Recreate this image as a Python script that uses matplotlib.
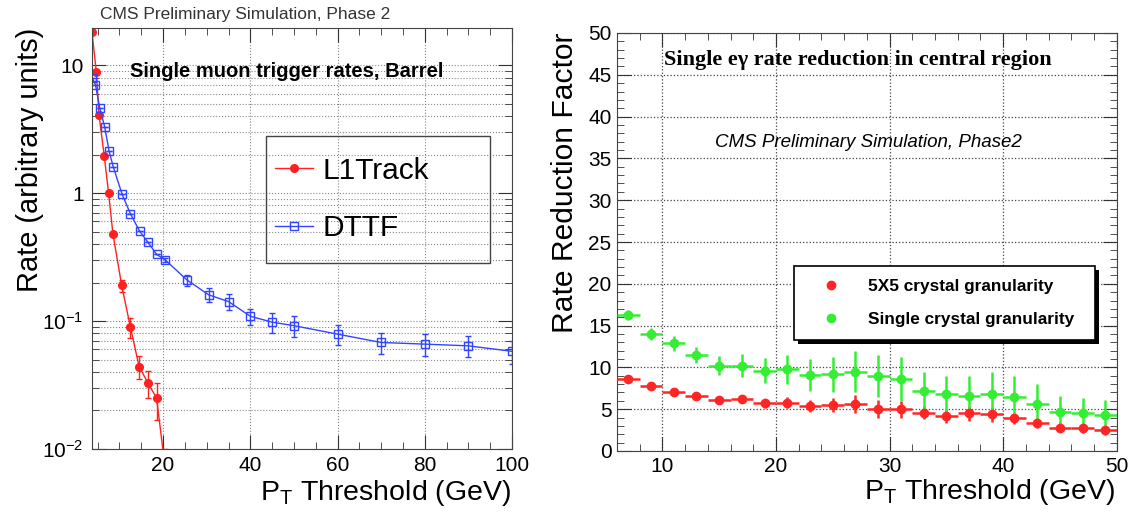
import matplotlib
matplotlib.use("Agg")
import matplotlib.pyplot as plt
from matplotlib.ticker import MultipleLocator, FixedLocator, FixedFormatter, NullFormatter, LogLocator
from matplotlib.patches import Rectangle
from matplotlib.lines import Line2D

plt.rcParams['font.family'] = ['Liberation Sans', 'DejaVu Sans']
plt.rcParams['mathtext.fontset'] = 'custom'
plt.rcParams['mathtext.rm'] = 'Liberation Sans'
plt.rcParams['mathtext.it'] = 'Liberation Sans:italic'
plt.rcParams['mathtext.bf'] = 'Liberation Sans:bold'

# --- left panel: single muon trigger rates (barrel)
l1_pt = [3.7, 4.7, 5.3, 6.5, 7.5, 8.5, 10.5, 12.5, 14.5, 16.5, 18.5, 20.5]
l1_rate = [18.0, 8.8, 4.1, 1.96, 1.0, 0.48, 0.19, 0.09, 0.044, 0.033, 0.025, 0.007]
l1_err = [0, 0, 0, 0, 0, 0.01, 0.02, 0.016, 0.009, 0.008, 0.008, 0.003]

dttf_pt = [3.7, 4.5, 5.5, 6.6, 7.6, 8.6, 10.6, 12.5, 14.6, 16.5, 18.5, 20.5,
           25.5, 30.5, 35, 40, 45, 50, 60, 70, 80, 90, 100]
dttf_rate = [8.0, 7.0, 4.6, 3.3, 2.14, 1.59, 0.98, 0.69, 0.505, 0.414, 0.332, 0.30,
             0.209, 0.16, 0.142, 0.109, 0.098, 0.092, 0.079, 0.068, 0.066, 0.064, 0.058]
dttf_err = [0, 0, 0, 0, 0, 0, 0, 0, 0, 0, 0, 0.012,
            0.02, 0.02, 0.02, 0.016, 0.018, 0.017, 0.014, 0.013, 0.013, 0.012, 0.012]

# --- right panel: single e/gamma rate reduction
eg_pt = [7, 9, 11, 13, 15, 17, 19, 21, 23, 25, 27, 29, 31, 33, 35, 37, 39, 41, 43, 45, 47, 49]
red_5x5 = [8.6, 7.8, 7.0, 6.6, 6.1, 6.2, 5.7, 5.8, 5.4, 5.5, 5.6, 5.0,
           5.0, 4.6, 4.2, 4.5, 4.4, 3.9, 3.4, 2.8, 2.7, 2.5]
red_5x5_err = [0.3, 0.3, 0.35, 0.4, 0.45, 0.5, 0.55, 0.7, 0.75, 0.8, 1.1, 1.1,
               1.0, 0.75, 0.8, 0.9, 0.9, 0.65, 0.6, 0.55, 0.55, 0.55]
red_single = [16.3, 14.0, 12.9, 11.5, 10.2, 10.2, 9.6, 9.8, 9.1, 9.2, 9.5, 9.0,
              8.6, 7.2, 6.8, 6.6, 6.8, 6.4, 5.6, 4.7, 4.5, 4.3]
red_single_err = [0.6, 0.74, 0.88, 1.0, 1.14, 1.4, 1.5, 1.73, 1.9, 2.1, 2.45, 2.5,
                  2.65, 2.2, 2.23, 2.43, 2.7, 2.63, 2.43, 1.9, 1.8, 1.75]

W, H = 1135, 518
fig = plt.figure(figsize=(W / 100, H / 100), dpi=100)

RED = '#ff2020'
BLUE = '#3344ff'
GREEN = '#33ee33'
EG_RED = '#ff2525'

# ---------------- left
ax1 = fig.add_axes([92 / W, 1 - 449 / H, 420 / W, 421 / H])
ax1.set_yscale('log')
ax1.set_xlim(3.7, 100)
ax1.set_ylim(0.01, 19.5)

l1_line, = ax1.plot(l1_pt, l1_rate, color=RED, lw=1, marker='o', ms=5.5, label='L1Track')
ax1.errorbar(l1_pt, l1_rate, yerr=l1_err, fmt='none', ecolor=RED, elinewidth=1, capsize=2)
dt_line, = ax1.plot(dttf_pt, dttf_rate, color=BLUE, lw=1, marker='s', ms=5.5,
                    mfc='none', mec=BLUE, mew=1, label='DTTF')
ax1.errorbar(dttf_pt, dttf_rate, yerr=dttf_err, fmt='none', ecolor=BLUE, elinewidth=1, capsize=2)

ax1.xaxis.set_major_locator(MultipleLocator(20))
ax1.xaxis.set_minor_locator(MultipleLocator(5))
ax1.yaxis.set_major_locator(FixedLocator([0.01, 0.1, 1, 10]))
ax1.yaxis.set_major_formatter(FixedFormatter([r'$10^{-2}$', r'$10^{-1}$', '1', '10']))
ax1.yaxis.set_minor_locator(LogLocator(subs=[2, 3, 4, 5, 6, 7, 8, 9]))
ax1.yaxis.set_minor_formatter(NullFormatter())
ax1.grid(which='both', axis='y', ls=':', color='#888888', lw=0.8)
ax1.grid(which='major', axis='x', ls=':', color='#888888', lw=0.8)
ax1.tick_params(which='both', direction='in', top=True, right=True, labelsize=15, color='#333333')
ax1.tick_params(which='major', length=10)
ax1.tick_params(which='minor', length=5)
ax1.tick_params(axis='x', pad=5)
ax1.tick_params(axis='y', pad=6)
for s in ax1.spines.values():
    s.set_color('#444444')

ax1.text(0.0905, 0.8955, 'Single muon trigger rates, Barrel', transform=ax1.transAxes,
         fontsize=14.5, fontweight='bold', ha='left', va='center')
ax1.add_patch(Rectangle((0.414, 0.442), 0.534, 0.3015, transform=ax1.transAxes,
                        fill=False, edgecolor='#444444', lw=1, zorder=4))
ax1.legend(handles=[l1_line, dt_line], loc='center left',
           bbox_to_anchor=(0.414, 0.442, 0.534, 0.3015), mode='expand', borderaxespad=0,
           frameon=False, fontsize=21.5, borderpad=0.3, handlelength=1.27,
           handletextpad=0.34, labelspacing=1.0)

fig.text(100 / W, 1 - 15 / H, 'CMS Preliminary Simulation, Phase 2', fontsize=12.5,
         color='#333333', ha='left', va='center')
fig.text(30 / W, 1 - 28 / H, 'Rate (arbitrary units)', rotation=90, fontsize=20.9,
         ha='center', va='top')
fig.text(511 / W, 1 - 493 / H, r'P$_{\mathrm{T}}$ Threshold (GeV)', fontsize=20.5,
         ha='right', va='center')

# ---------------- right
ax2 = fig.add_axes([617 / W, 1 - 451 / H, 499.7 / W, 418 / H])
ax2.set_xlim(6, 50)
ax2.set_ylim(0, 50)

ax2.errorbar(eg_pt, red_5x5, yerr=red_5x5_err, xerr=1, fmt='o', color=EG_RED, ms=6,
             elinewidth=1.8, capsize=0, zorder=3)
ax2.errorbar(eg_pt, red_single, yerr=red_single_err, xerr=1, fmt='o', color=GREEN, ms=6,
             elinewidth=1.8, capsize=0, zorder=3)

ax2.xaxis.set_major_locator(MultipleLocator(10))
ax2.xaxis.set_minor_locator(MultipleLocator(2))
ax2.yaxis.set_major_locator(MultipleLocator(5))
ax2.yaxis.set_minor_locator(MultipleLocator(1))
ax2.grid(which='major', ls=':', color='#444444', lw=0.9)
ax2.tick_params(which='both', direction='in', top=True, right=True, labelsize=15, color='#333333')
ax2.tick_params(which='major', length=10)
ax2.tick_params(which='minor', length=5)
ax2.tick_params(axis='x', pad=4)
ax2.tick_params(axis='y', pad=4)
for s in ax2.spines.values():
    s.set_color('#444444')

ax2.text(0.482, 0.935, u'Single e\u03b3 rate reduction in central region', transform=ax2.transAxes,
         family=['Liberation Serif', 'DejaVu Serif'], fontsize=16, fontweight='bold',
         ha='center', va='center')
ax2.text(0.503, 0.739, 'CMS Preliminary Simulation, Phase2', transform=ax2.transAxes,
         fontsize=13.5, style='italic', ha='center', va='center')

dx, dy = 4 / 499.7, 4 / 418
ax2.add_patch(Rectangle((0.354 + dx, 0.2656 - dy), 0.6026, 0.1777, transform=ax2.transAxes,
                        facecolor='black', edgecolor='none', zorder=4))
ax2.add_patch(Rectangle((0.354, 0.2656), 0.6026, 0.1777, transform=ax2.transAxes,
                        facecolor='white', edgecolor='black', lw=1.2, zorder=4.5))
h_5x5 = Line2D([], [], ls='none', marker='o', ms=6, color=EG_RED)
h_single = Line2D([], [], ls='none', marker='o', ms=6, color=GREEN)
ax2.legend(handles=[h_5x5, h_single],
           labels=['5X5 crystal granularity', 'Single crystal granularity'],
           loc='center left', bbox_to_anchor=(0.354, 0.2656, 0.6026, 0.1777), mode='expand',
           borderaxespad=0, frameon=False, prop={'size': 12.4, 'weight': 'bold'},
           borderpad=0.5, handlelength=3.26, handletextpad=0.54, labelspacing=1.04)

fig.text(565 / W, 1 - 33 / H, 'Rate Reduction Factor', rotation=90, fontsize=21.6,
         ha='center', va='top')
fig.text(1115 / W, 1 - 492 / H, r'P$_{\mathrm{T}}$ Threshold (GeV)', fontsize=20.5,
         ha='right', va='center')

fig.savefig('out.png', dpi=100)
